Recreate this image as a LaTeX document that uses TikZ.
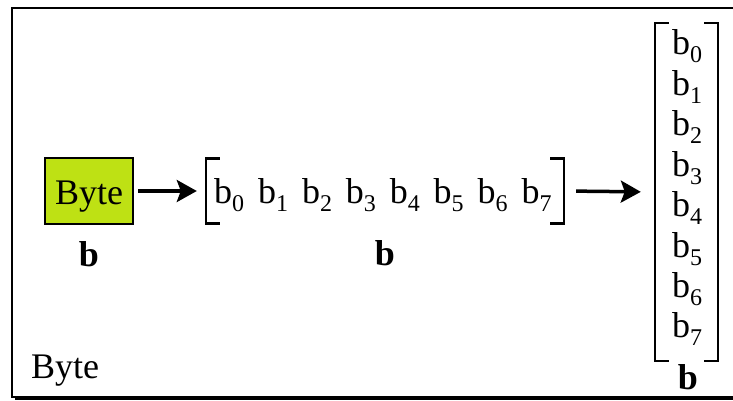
\documentclass[tikz,border=0pt]{standalone}
\usepackage{fontspec}
\setmainfont{Liberation Serif}
\usetikzlibrary{arrows.meta}
\definecolor{bytegreen}{RGB}{190,225,20}
\newcommand{\bitsub}[1]{b\raisebox{-8pt}{\fontsize{24}{24}\selectfont #1}}
\begin{document}
\begin{tikzpicture}[
  x=1pt, y=-1pt,
  txt/.style={inner sep=0pt, font=\fontsize{36}{42}\selectfont},
  bitnode/.style={txt, anchor=base west},
  label/.style={txt, anchor=base, font=\fontsize{36}{42}\selectfont\bfseries},
  bytebox/.style={rectangle, draw, line width=2pt, fill=bytegreen, minimum width=88, minimum height=66, txt},
  bracket/.style={line width=2.5pt},
  arrow/.style={-{Stealth[length=20pt, width=22pt, inset=4pt]}, line width=3.5pt}
]
  \useasboundingbox (0,0) rectangle (733,401);
  \fill[black] (15,11) rectangle (748,400);
  \draw[fill=white, line width=1.8pt] (12,8) rectangle (745,397);

  \node[bytebox] (byte) at (89,191) {};
  \node[txt, anchor=base] (bytetext) at (89,204) {Byte};
  \node[label] (blabel1) at (89,266) {b};

  \node[minimum width=358, minimum height=65, inner sep=0pt] (row) at (385,191) {};
  \foreach \i in {0,...,7}
    \node[bitnode] (r\i) at (214+43.9*\i,203) {\bitsub{\i}};
  \node[label] (blabel2) at (385,265) {b};
  \draw[bracket] ([xshift=14]row.north west) -| (row.south west) -- ++(14,0);
  \draw[bracket] ([xshift=-14]row.north east) -| (row.south east) -- ++(-14,0);

  \node[minimum width=63, minimum height=338, inner sep=0pt] (col) at (686.5,192) {};
  \foreach \i in {0,...,7}
    \node[bitnode] (c\i) at (672,55+40.4*\i) {\bitsub{\i}};
  \node[label] (blabel3) at (688,389) {b};
  \draw[bracket] ([xshift=14]col.north west) -| (col.south west) -- ++(14,0);
  \draw[bracket] ([xshift=-14]col.north east) -| (col.south east) -- ++(-14,0);

  \draw[arrow, shorten >=9pt] (byte.east) ++(4,0) -- (row.west);
  \draw[arrow, shorten <=12pt, shorten >=14pt] (row.east) -- (col.west);

  \node[txt, anchor=base west] (caption) at (31,378) {Byte};
\end{tikzpicture}
\end{document}
